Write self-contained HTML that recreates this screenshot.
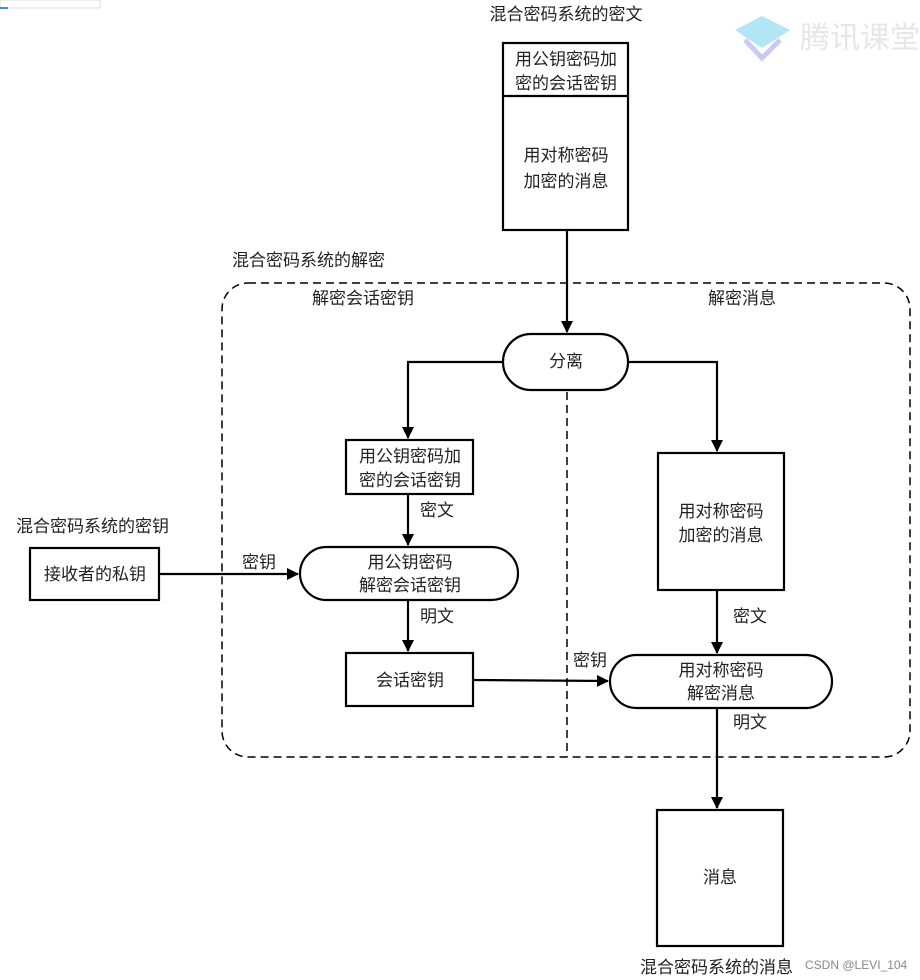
<!DOCTYPE html>
<html><head><meta charset="utf-8"><style>
html,body{margin:0;padding:0;background:#fff;width:920px;height:980px;overflow:hidden}
svg text{font-family:"Liberation Sans","Noto Sans CJK SC",sans-serif;font-size:17px;fill:#222}
</style></head><body>
<svg width="920" height="980" viewBox="0 0 920 980" xmlns="http://www.w3.org/2000/svg">
<defs><marker id="a" markerWidth="12" markerHeight="12" refX="11" refY="6" orient="auto" markerUnits="userSpaceOnUse"><path d="M0,0 L12,6 L0,12 z" fill="#000"/></marker></defs>
<rect x="0" y="0" width="100" height="8" fill="#fff" stroke="#ddd"/>
<line x1="0" y1="8" x2="8" y2="8" stroke="#4a90c0" stroke-width="2"/>
<path d="M735 30 L762 16 L790 30 L762 48 Z" fill="#7fd4f0" opacity="0.6"/>
<path d="M745 40 L762 58 L780 40" fill="none" stroke="#a9a6f0" stroke-width="5" opacity="0.6"/>
<text x="800" y="48" style="font-size:30px;fill:#e6e6e6">腾讯课堂</text>
<g stroke="#000" stroke-width="2.2" fill="none">
<rect x="503" y="43" width="125" height="187"/>
<line x1="503" y1="96" x2="628" y2="96"/>
<rect x="222" y="283" width="688" height="474" rx="26" stroke-width="1.5" stroke-dasharray="8,5"/>
<line x1="567" y1="392" x2="567" y2="757" stroke-width="1.5" stroke-dasharray="8,5"/>
<line x1="567" y1="230" x2="567" y2="332" marker-end="url(#a)"/>
<rect x="503" y="334" width="125" height="56" rx="28" fill="#fff"/>
<polyline points="503,362 408,362 408,438" marker-end="url(#a)"/>
<rect x="346" y="440" width="127" height="54"/>
<line x1="408" y1="494" x2="408" y2="545" marker-end="url(#a)"/>
<rect x="300" y="547" width="218" height="53" rx="26.5"/>
<rect x="30" y="548" width="129" height="52"/>
<line x1="159" y1="574" x2="298" y2="574" marker-end="url(#a)"/>
<line x1="408" y1="600" x2="408" y2="651" marker-end="url(#a)"/>
<rect x="346" y="653" width="127" height="53"/>
<line x1="473" y1="680" x2="608" y2="681" marker-end="url(#a)"/>
<polyline points="628,362 717,362 717,451" marker-end="url(#a)"/>
<rect x="658" y="453" width="126" height="137"/>
<line x1="717" y1="590" x2="717" y2="653" marker-end="url(#a)"/>
<rect x="610" y="655" width="222" height="53" rx="26.5" fill="#fff"/>
<line x1="717" y1="708" x2="717" y2="808" marker-end="url(#a)"/>
<rect x="657" y="810" width="126" height="136"/>
</g>
<g text-anchor="middle">
<text x="566" y="20">混合密码系统的密文</text>
<text x="566" y="65">用公钥密码加</text>
<text x="566" y="89">密的会话密钥</text>
<text x="566" y="161">用对称密码</text>
<text x="566" y="187">加密的消息</text>
<text x="566" y="367">分离</text>
<text x="410" y="462">用公钥密码加</text>
<text x="410" y="486">密的会话密钥</text>
<text x="410" y="568">用公钥密码</text>
<text x="410" y="591">解密会话密钥</text>
<text x="95" y="580">接收者的私钥</text>
<text x="410" y="686">会话密钥</text>
<text x="721" y="517">用对称密码</text>
<text x="721" y="541">加密的消息</text>
<text x="721" y="676">用对称密码</text>
<text x="721" y="699">解密消息</text>
<text x="720" y="883">消息</text>
</g>
<text x="232" y="266">混合密码系统的解密</text>
<text x="312" y="304">解密会话密钥</text>
<text x="708" y="304">解密消息</text>
<text x="420" y="516">密文</text>
<text x="16" y="532">混合密码系统的密钥</text>
<text x="242" y="568">密钥</text>
<text x="420" y="622">明文</text>
<text x="573" y="666">密钥</text>
<text x="733" y="622">密文</text>
<text x="733" y="728">明文</text>
<text x="640" y="973" style="font-size:17px">混合密码系统的消息</text>
<text x="805" y="969" style="font-size:12px;fill:#888">CSDN @LEVI_104</text>
</svg>
</body></html>
